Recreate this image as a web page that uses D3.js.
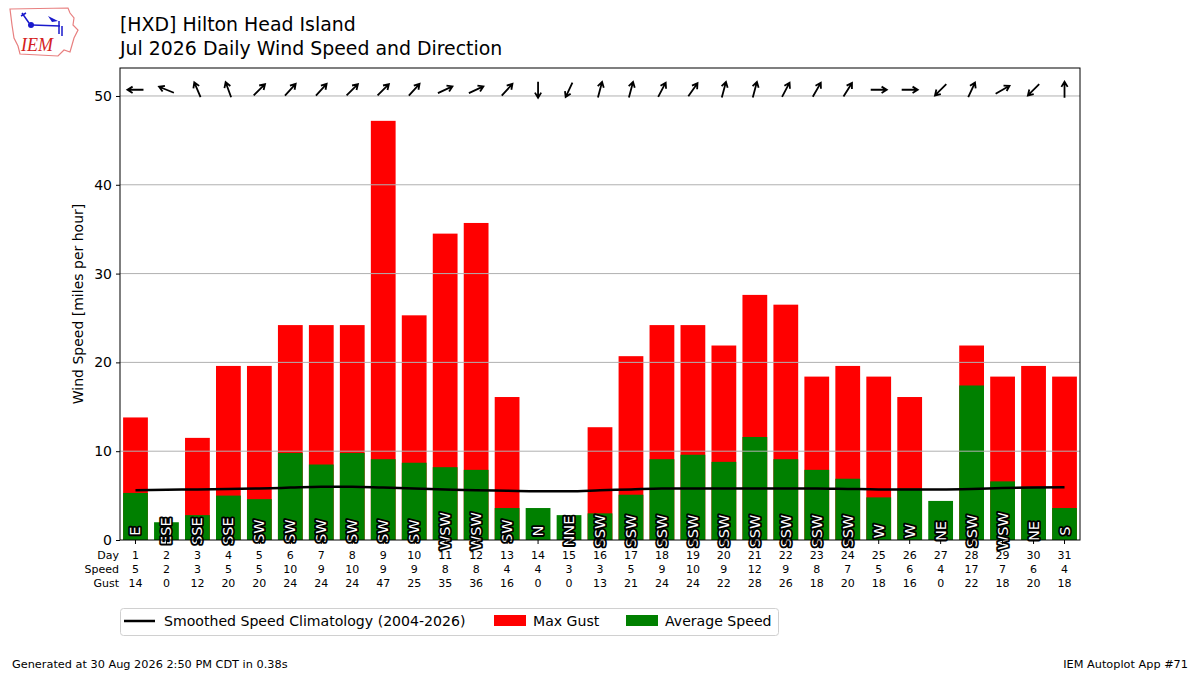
<!DOCTYPE html>
<html>
<head>
<meta charset="utf-8">
<script src="https://cdn.jsdelivr.net/npm/d3@7"></script>
<style>
  body { margin: 0; background: #fff; }
  svg { font-family: "DejaVu Sans", sans-serif; }
</style>
</head>
<body>
<div id="chart"></div>
<script>
// Chart data
var days = d3.range(1, 32);
var avgSpeed = [5.3, 2.0, 2.8, 5.0, 4.6, 9.8, 8.5, 9.8, 9.1, 8.7, 8.2, 7.9, 3.6, 3.6, 2.8,
                3.0, 5.1, 9.1, 9.6, 8.8, 11.6, 9.1, 7.9, 6.9, 4.8, 5.8, 4.4, 17.4, 6.6, 6.0, 3.6];
var maxGust = [13.8, 0, 11.5, 19.6, 19.6, 24.2, 24.2, 24.2, 47.2, 25.3, 34.5, 35.7, 16.1, 0, 0,
               12.7, 20.7, 24.2, 24.2, 21.9, 27.6, 26.5, 18.4, 19.6, 18.4, 16.1, 0, 21.9, 18.4, 19.6, 18.4];
var speedLabels = [5, 2, 3, 5, 5, 10, 9, 10, 9, 9, 8, 8, 4, 4, 3, 3, 5, 9, 10, 9, 12, 9, 8, 7, 5, 6, 4, 17, 7, 6, 4];
var gustLabels = [14, 0, 12, 20, 20, 24, 24, 24, 47, 25, 35, 36, 16, 0, 0, 13, 21, 24, 24, 22, 28, 26, 18, 20, 18, 16, 0, 22, 18, 20, 18];
var dirLabels = ["E", "ESE", "SSE", "SSE", "SW", "SW", "SW", "SW", "SW", "SW", "WSW", "WSW", "SW", "N", "NNE",
                 "SSW", "SSW", "SSW", "SSW", "SSW", "SSW", "SSW", "SSW", "SSW", "W", "W", "NE", "SSW", "WSW", "NE", "S"];
var dirDegrees = [90, 112, 157, 160, 225, 222, 222, 225, 225, 222, 245, 245, 222, 0, 25,
                  195, 195, 208, 215, 195, 195, 208, 210, 212, 270, 270, 45, 205, 240, 45, 180];
var climo = [5.6, 5.65, 5.7, 5.75, 5.8, 5.9, 6.0, 6.0, 5.9, 5.8, 5.7, 5.6, 5.55, 5.5, 5.5,
             5.6, 5.7, 5.8, 5.8, 5.8, 5.8, 5.8, 5.8, 5.75, 5.7, 5.7, 5.7, 5.75, 5.85, 5.9, 5.95];
var yTicks = [0, 10, 20, 30, 40, 50];

var width = 1200;
var height = 675;
var margin = { top: 68, right: 120, bottom: 135, left: 120 };

var svg = d3.select("#chart")
    .append("svg")
    .attr("width", width)
    .attr("height", height);

// Scales
var x = d3.scaleBand()
    .domain(days)
    .range([margin.left, width - margin.right])
    .paddingInner(0.2)
    .paddingOuter(0.1);

var y = d3.scaleLinear()
    .domain([0, 53.15])
    .range([height - margin.bottom, margin.top]);

var cx = function(d) { return x(d) + x.bandwidth() / 2; };

// Gust bars (red) behind, average speed bars (green) in front
svg.append("g").selectAll("rect")
    .data(days)
    .enter().append("rect")
    .attr("x", function(d) { return x(d); })
    .attr("y", function(d, i) { return y(maxGust[i]); })
    .attr("width", x.bandwidth())
    .attr("height", function(d, i) { return y(0) - y(maxGust[i]); })
    .attr("fill", "#ff0000");

svg.append("g").selectAll("rect")
    .data(days)
    .enter().append("rect")
    .attr("x", function(d) { return x(d); })
    .attr("y", function(d, i) { return y(avgSpeed[i]); })
    .attr("width", x.bandwidth())
    .attr("height", function(d, i) { return y(0) - y(avgSpeed[i]); })
    .attr("fill", "#008000");

// Grid lines drawn over the bars
svg.append("g").selectAll("line")
    .data(yTicks.slice(1))
    .enter().append("line")
    .attr("x1", margin.left)
    .attr("x2", width - margin.right)
    .attr("y1", function(d) { return y(d); })
    .attr("y2", function(d) { return y(d); })
    .attr("stroke", "#b0b0b0")
    .attr("stroke-width", 1);

// Climatology line
var line = d3.line()
    .x(function(d, i) { return cx(days[i]); })
    .y(function(d) { return y(d); })
    .curve(d3.curveMonotoneX);

svg.append("path")
    .datum(climo)
    .attr("d", line)
    .attr("fill", "none")
    .attr("stroke", "#000")
    .attr("stroke-width", 2.5);

// Wind direction arrows along the top (pointing where the wind goes)
var arrowY = y(50.7);
var arrowLen = 16;
svg.append("g").selectAll("path")
    .data(days)
    .enter().append("path")
    .attr("d", function(d, i) {
        var a = (dirDegrees[i] + 180) * Math.PI / 180;
        var ux = Math.sin(a), uy = -Math.cos(a);
        var x0 = cx(d) - ux * arrowLen / 2, y0 = arrowY - uy * arrowLen / 2;
        var x1 = cx(d) + ux * arrowLen / 2, y1 = arrowY + uy * arrowLen / 2;
        var h = 6, s = 0.55;
        var bx = -ux, by = -uy;
        var hx1 = x1 + h * (bx * Math.cos(s) - by * Math.sin(s));
        var hy1 = y1 + h * (bx * Math.sin(s) + by * Math.cos(s));
        var hx2 = x1 + h * (bx * Math.cos(-s) - by * Math.sin(-s));
        var hy2 = y1 + h * (bx * Math.sin(-s) + by * Math.cos(-s));
        return "M" + x0 + "," + y0 + "L" + x1 + "," + y1 +
               "M" + hx1 + "," + hy1 + "L" + x1 + "," + y1 + "L" + hx2 + "," + hy2;
    })
    .attr("fill", "none")
    .attr("stroke", "#000")
    .attr("stroke-width", 1.8);

// Direction labels inside the bars
svg.append("g").selectAll("text")
    .data(days)
    .enter().append("text")
    .attr("transform", function(d) { return "translate(" + cx(d) + "," + y(1.0) + ") rotate(-90)"; })
    .attr("text-anchor", "middle")
    .attr("dominant-baseline", "central")
    .attr("font-size", 14.5)
    .attr("fill", "#fff")
    .attr("stroke", "#000")
    .attr("stroke-width", 3.6)
    .attr("paint-order", "stroke")
    .attr("stroke-linejoin", "round")
    .text(function(d, i) { return dirLabels[i]; });

// Axes frame
svg.append("rect")
    .attr("x", margin.left)
    .attr("y", margin.top)
    .attr("width", width - margin.left - margin.right)
    .attr("height", height - margin.top - margin.bottom)
    .attr("fill", "none")
    .attr("stroke", "#000")
    .attr("stroke-width", 1);

// Y axis
var yAxis = svg.append("g")
    .attr("transform", "translate(" + margin.left + ",0)")
    .call(d3.axisLeft(y).tickValues(yTicks).tickSize(4).tickPadding(4));
yAxis.select(".domain").remove();
yAxis.selectAll("text").attr("font-size", 14).attr("fill", "#000").attr("font-family", "DejaVu Sans");

// X axis (ticks only; labels go in the table below)
var xAxis = svg.append("g")
    .attr("transform", "translate(0," + y(0) + ")")
    .call(d3.axisBottom(x).tickSize(4).tickFormat(""));
xAxis.select(".domain").remove();

svg.append("text")
    .attr("transform", "translate(83," + ((margin.top + y(0)) / 2) + ") rotate(-90)")
    .attr("text-anchor", "middle")
    .attr("font-size", 14)
    .text("Wind Speed [miles per hour]");

// Table under the axis: Day / Speed / Gust
var rows = [
    { name: "Day", vals: days, yy: 559 },
    { name: "Speed", vals: speedLabels, yy: 573 },
    { name: "Gust", vals: gustLabels, yy: 587 }
];
rows.forEach(function(r) {
    svg.append("text")
        .attr("x", 119)
        .attr("y", r.yy)
        .attr("text-anchor", "end")
        .attr("font-size", 11)
        .text(r.name);
    svg.append("g").selectAll("text")
        .data(r.vals)
        .enter().append("text")
        .attr("x", function(d, i) { return cx(days[i]); })
        .attr("y", r.yy)
        .attr("text-anchor", "middle")
        .attr("font-size", 11)
        .text(function(d) { return d; });
});

// Titles
svg.append("text").attr("x", 120).attr("y", 31).attr("font-size", 18.9)
    .text("[HXD] Hilton Head Island");
svg.append("text").attr("x", 120).attr("y", 55).attr("font-size", 18.9)
    .text("Jul 2026 Daily Wind Speed and Direction");

// Legend
var lg = svg.append("g");
lg.append("rect")
    .attr("x", 120.5).attr("y", 608.5).attr("width", 658).attr("height", 27)
    .attr("rx", 3).attr("fill", "#fff").attr("stroke", "#d0d0d0");
lg.append("line").attr("x1", 124).attr("x2", 155).attr("y1", 621).attr("y2", 621)
    .attr("stroke", "#000").attr("stroke-width", 2.5);
lg.append("text").attr("x", 164).attr("y", 626).attr("font-size", 14.1)
    .text("Smoothed Speed Climatology (2004-2026)");
lg.append("rect").attr("x", 494).attr("y", 615).attr("width", 32).attr("height", 11).attr("fill", "#ff0000");
lg.append("text").attr("x", 533).attr("y", 626).attr("font-size", 14.1).text("Max Gust");
lg.append("rect").attr("x", 626).attr("y", 615).attr("width", 32).attr("height", 11).attr("fill", "#008000");
lg.append("text").attr("x", 665).attr("y", 626).attr("font-size", 14.1).text("Average Speed");

// Footer
svg.append("text").attr("x", 12).attr("y", 668).attr("font-size", 11.3)
    .text("Generated at 30 Aug 2026 2:50 PM CDT in 0.38s");
svg.append("text").attr("x", 1188).attr("y", 668).attr("font-size", 11.3)
    .attr("text-anchor", "end").text("IEM Autoplot App #71");

// IEM logo (rough)
var logo = svg.append("g");
logo.append("path")
    .attr("d", "M10,9 L68,8 L70,13 L74,18 L73,25 L78,30 L74,38 L72,45 L70,52 L64,50 L58,56 L20,54 L18,46 L14,38 L12,25 Z")
    .attr("fill", "#fff").attr("stroke", "#e88080").attr("stroke-width", 1.2);
logo.append("line").attr("x1", 32).attr("x2", 60).attr("y1", 25).attr("y2", 26)
    .attr("stroke", "#1a1acc").attr("stroke-width", 1.5);
logo.append("circle").attr("cx", 31).attr("cy", 25).attr("r", 3).attr("fill", "#1a1acc");
logo.append("path").attr("d", "M22,13 L29,23 M21,16 L26,13").attr("stroke", "#1a1acc").attr("stroke-width", 1.5).attr("fill", "none");
logo.append("path").attr("d", "M48,16 L58,21 L52,22 Z").attr("fill", "#1a1acc");
logo.append("path").attr("d", "M59,21 L59,34 M62,26 L62,36").attr("stroke", "#1a1acc").attr("stroke-width", 1.5);
logo.append("text").attr("x", 21).attr("y", 51).attr("font-family", "Liberation Serif")
    .attr("font-style", "italic").attr("font-size", 18).attr("fill", "#d42020").text("IEM");
</script>
</body>
</html>
